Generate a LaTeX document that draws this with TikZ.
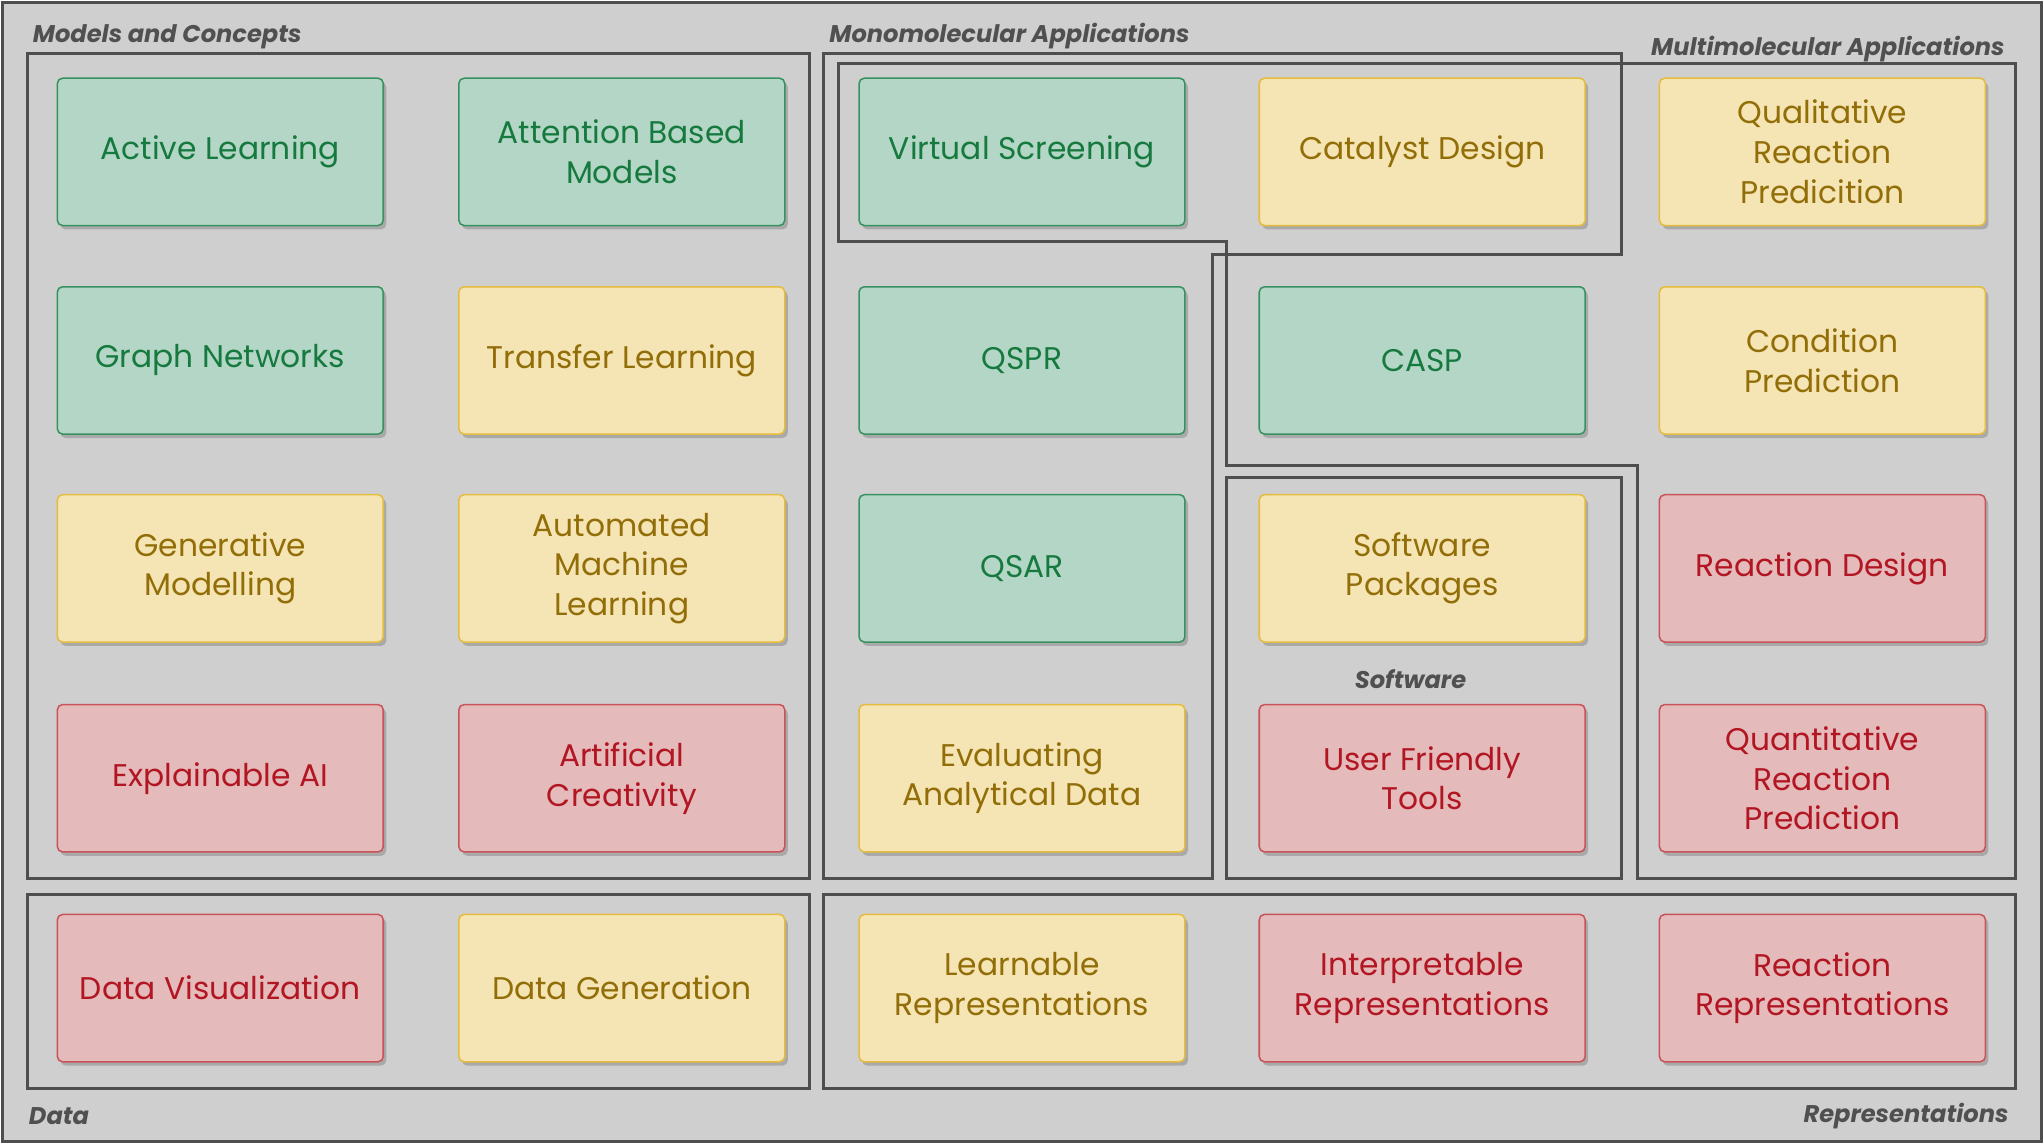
\documentclass[tikz,border=0pt]{standalone}
\usepackage{fontspec}
\setmainfont{Poppins}
\usetikzlibrary{shadows}
\definecolor{bggray}{RGB}{207,207,207}
\definecolor{framegray}{RGB}{78,78,78}
\definecolor{titlegray}{RGB}{80,80,80}
\definecolor{gfill}{RGB}{180,214,198}
\definecolor{gline}{RGB}{56,146,96}
\definecolor{gtext}{RGB}{22,122,62}
\definecolor{yfill}{RGB}{245,228,180}
\definecolor{yline}{RGB}{228,188,62}
\definecolor{ytext}{RGB}{146,110,8}
\definecolor{rfill}{RGB}{228,186,187}
\definecolor{rline}{RGB}{200,84,90}
\definecolor{rtext}{RGB}{178,22,34}
\begin{document}
\begin{tikzpicture}[x=0.03cm, y=-0.03cm,
    box/.style={draw, rounded corners=0.12cm, minimum width=7.5cm, minimum height=3.39cm,
      align=center, line width=1pt, font=\fontsize{20.5}{26}\selectfont,
      drop shadow={shadow xshift=0.07cm, shadow yshift=-0.09cm, fill=black, opacity=0.18}},
    gbox/.style={box, fill=gfill, draw=gline, text=gtext},
    ybox/.style={box, fill=yfill, draw=yline, text=ytext},
    rbox/.style={box, fill=rfill, draw=rline, text=rtext},
    frame/.style={draw=framegray, line width=2pt},
    title/.style={font=\bfseries\itshape\fontsize{15.8}{19}\selectfont, text=titlegray, inner sep=0pt}]
  \useasboundingbox (0,0) rectangle (1568,878);
  \draw[fill=bggray, draw=framegray, line width=2pt] (2,2) rectangle (1566,876);

  \draw[frame] (21,41) rectangle (621,674);
  \draw[frame] (21,686) rectangle (621,835);
  \draw[frame] (632,686) rectangle (1546,835);
  \draw[frame] (632,41) -- (1244,41) -- (1244,195) -- (930,195) -- (930,674) -- (632,674) -- cycle;
  \draw[frame] (643,49) -- (1546,49) -- (1546,674) -- (1256,674) -- (1256,357) -- (941,357) -- (941,185) -- (643,185) -- cycle;
  \draw[frame] (941,366) rectangle (1244,674);

  \node[title, anchor=west] (mctitle) at (25,28) {Models and Concepts};
  \node[title, anchor=west] (monotitle) at (636,28) {Monomolecular Applications};
  \node[title, anchor=east] (multititle) at (1538,38) {Multimolecular Applications};
  \node[title] (softtitle) at (1082,521) {Software};
  \node[title, anchor=west] (datatitle) at (22,856) {Data};
  \node[title, anchor=east] (reprtitle) at (1541,856) {Representations};

  \node[gbox] (active) at (169,116.5) {Active Learning};
  \node[gbox] (attention) at (477,116.5) {Attention Based\\Models};
  \node[gbox] (graph) at (169,276.5) {Graph Networks};
  \node[ybox] (transfer) at (477,276.5) {Transfer Learning};
  \node[ybox] (generative) at (169,436) {Generative\\Modelling};
  \node[ybox] (automl) at (477,436) {Automated\\Machine\\Learning};
  \node[rbox] (explainable) at (169,597) {Explainable AI};
  \node[rbox] (creativity) at (477,597) {Artificial\\Creativity};

  \node[gbox] (screening) at (784,116.5) {Virtual Screening};
  \node[ybox] (catalyst) at (1091,116.5) {Catalyst Design};
  \node[ybox] (qualitative) at (1398,116.5) {Qualitative\\Reaction\\Predicition};
  \node[gbox] (qspr) at (784,276.5) {QSPR};
  \node[gbox] (casp) at (1091,276.5) {CASP};
  \node[ybox] (condition) at (1398,276.5) {Condition\\Prediction};
  \node[gbox] (qsar) at (784,436) {QSAR};
  \node[ybox] (packages) at (1091,436) {Software\\Packages};
  \node[rbox] (design) at (1398,436) {Reaction Design};
  \node[ybox] (analytical) at (784,597) {Evaluating\\Analytical Data};
  \node[rbox] (tools) at (1091,597) {User Friendly\\Tools};
  \node[rbox] (quantitative) at (1398,597) {Quantitative\\Reaction\\Prediction};

  \node[rbox] (visualization) at (169,758) {Data Visualization};
  \node[ybox] (generation) at (477,758) {Data Generation};
  \node[ybox] (learnable) at (784,758) {Learnable\\Representations};
  \node[rbox] (interpretable) at (1091,758) {Interpretable\\Representations};
  \node[rbox] (reactionrep) at (1398,758) {Reaction\\Representations};
\end{tikzpicture}
\end{document}
